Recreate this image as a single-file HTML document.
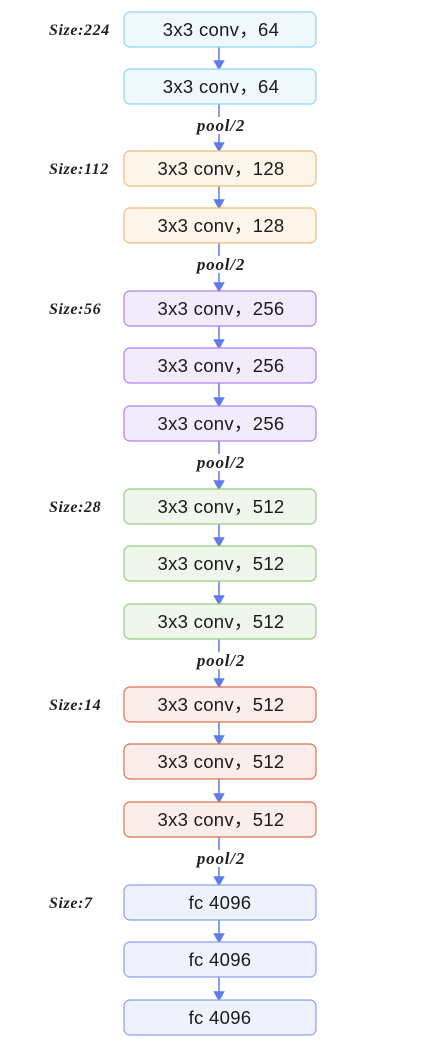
<!DOCTYPE html>
<html><head><meta charset="utf-8"><style>
body{margin:0;background:#fff;width:438px;height:1050px;overflow:hidden}
svg{display:block}
.b{font-family:"Liberation Sans","Noto Sans CJK SC",sans-serif;font-size:18.5px;fill:#1a1a1a;letter-spacing:0.3px}
.s{font-family:"Liberation Serif",serif;font-style:italic;font-weight:bold;font-size:16px;fill:#222;letter-spacing:0.6px}
.p{font-family:"Liberation Serif",serif;font-style:italic;font-weight:bold;font-size:17px;fill:#222;letter-spacing:0.8px}
</style></head><body>
<svg width="438" height="1050" xmlns="http://www.w3.org/2000/svg">
<g stroke="#5f7ce8" stroke-width="1.5" fill="#5f7ce8">
<line x1="219" y1="47" x2="219" y2="62"/><polygon points="214.5,61 223.5,61 219,69"/>
<line x1="219" y1="104" x2="219" y2="144"/><polygon points="214.5,143 223.5,143 219,151"/>
<line x1="219" y1="186" x2="219" y2="201"/><polygon points="214.5,200 223.5,200 219,208"/>
<line x1="219" y1="243" x2="219" y2="284"/><polygon points="214.5,283 223.5,283 219,291"/>
<line x1="219" y1="326" x2="219" y2="341"/><polygon points="214.5,340 223.5,340 219,348"/>
<line x1="219" y1="383" x2="219" y2="399"/><polygon points="214.5,398 223.5,398 219,406"/>
<line x1="219" y1="441" x2="219" y2="482"/><polygon points="214.5,481 223.5,481 219,489"/>
<line x1="219" y1="524" x2="219" y2="539"/><polygon points="214.5,538 223.5,538 219,546"/>
<line x1="219" y1="581" x2="219" y2="597"/><polygon points="214.5,596 223.5,596 219,604"/>
<line x1="219" y1="639" x2="219" y2="680"/><polygon points="214.5,679 223.5,679 219,687"/>
<line x1="219" y1="722" x2="219" y2="737"/><polygon points="214.5,736 223.5,736 219,744"/>
<line x1="219" y1="779" x2="219" y2="795"/><polygon points="214.5,794 223.5,794 219,802"/>
<line x1="219" y1="837" x2="219" y2="878"/><polygon points="214.5,877 223.5,877 219,885"/>
<line x1="219" y1="920" x2="219" y2="935"/><polygon points="214.5,934 223.5,934 219,942"/>
<line x1="219" y1="977" x2="219" y2="993"/><polygon points="214.5,992 223.5,992 219,1000"/>
</g>
<g stroke-width="1.2">
<rect x="124" y="12" width="192" height="35" rx="6" fill="#eef8fd" stroke="#8fd2f1"/>
<rect x="124" y="69" width="192" height="35" rx="6" fill="#eef8fd" stroke="#8fd2f1"/>
<rect x="124" y="151" width="192" height="35" rx="6" fill="#fdf4ea" stroke="#f1b879"/>
<rect x="124" y="208" width="192" height="35" rx="6" fill="#fdf4ea" stroke="#f1b879"/>
<rect x="124" y="291" width="192" height="35" rx="6" fill="#f1ebfc" stroke="#ab82ef"/>
<rect x="124" y="348" width="192" height="35" rx="6" fill="#f1ebfc" stroke="#ab82ef"/>
<rect x="124" y="406" width="192" height="35" rx="6" fill="#f1ebfc" stroke="#ab82ef"/>
<rect x="124" y="489" width="192" height="35" rx="6" fill="#eff6ec" stroke="#93cb80"/>
<rect x="124" y="546" width="192" height="35" rx="6" fill="#eff6ec" stroke="#93cb80"/>
<rect x="124" y="604" width="192" height="35" rx="6" fill="#eff6ec" stroke="#93cb80"/>
<rect x="124" y="687" width="192" height="35" rx="6" fill="#fbede9" stroke="#de7253"/>
<rect x="124" y="744" width="192" height="35" rx="6" fill="#fbede9" stroke="#de7253"/>
<rect x="124" y="802" width="192" height="35" rx="6" fill="#fbede9" stroke="#de7253"/>
<rect x="124" y="885" width="192" height="35" rx="6" fill="#eff2fc" stroke="#8ca0ef"/>
<rect x="124" y="942" width="192" height="35" rx="6" fill="#eff2fc" stroke="#8ca0ef"/>
<rect x="124" y="1000" width="192" height="35" rx="6" fill="#eff2fc" stroke="#8ca0ef"/>
</g>
<g class="b" text-anchor="middle">
<text x="221" y="36">3x3 conv，64</text>
<text x="221" y="93">3x3 conv，64</text>
<text x="221" y="175">3x3 conv，128</text>
<text x="221" y="232">3x3 conv，128</text>
<text x="221" y="315">3x3 conv，256</text>
<text x="221" y="372">3x3 conv，256</text>
<text x="221" y="430">3x3 conv，256</text>
<text x="221" y="513">3x3 conv，512</text>
<text x="221" y="570">3x3 conv，512</text>
<text x="221" y="628">3x3 conv，512</text>
<text x="221" y="711">3x3 conv，512</text>
<text x="221" y="768">3x3 conv，512</text>
<text x="221" y="826">3x3 conv，512</text>
<text x="220" y="909">fc 4096</text>
<text x="220" y="966">fc 4096</text>
<text x="220" y="1024">fc 4096</text>
</g>
<g class="s">
<text x="49" y="35">Size:224</text>
<text x="49" y="174">Size:112</text>
<text x="49" y="314">Size:56</text>
<text x="49" y="512">Size:28</text>
<text x="49" y="710">Size:14</text>
<text x="49" y="908">Size:7</text>
</g>
<g class="p" text-anchor="middle">
<rect x="195" y="117" width="52" height="17" fill="#fff"/><text x="221" y="131">pool/2</text>
<rect x="195" y="256" width="52" height="17" fill="#fff"/><text x="221" y="270">pool/2</text>
<rect x="195" y="454" width="52" height="17" fill="#fff"/><text x="221" y="468">pool/2</text>
<rect x="195" y="652" width="52" height="17" fill="#fff"/><text x="221" y="666">pool/2</text>
<rect x="195" y="850" width="52" height="17" fill="#fff"/><text x="221" y="864">pool/2</text>
</g>
</svg>
</body></html>
